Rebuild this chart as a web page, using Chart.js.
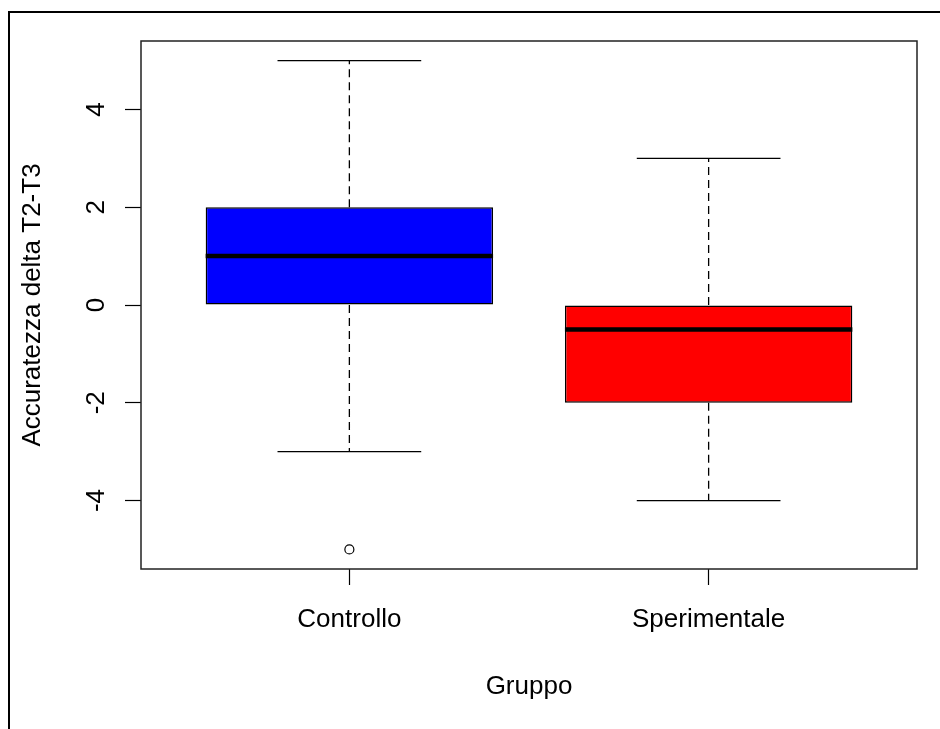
<!DOCTYPE html>
<html>
<head>
<meta charset="utf-8">
<script src="https://cdn.jsdelivr.net/npm/chart.js@4/dist/chart.umd.min.js"></script>
<style>
  html, body { margin: 0; padding: 0; background: #fff; }
  #wrap { position: relative; width: 940px; height: 729px; overflow: hidden; }
  #frame { position: absolute; left: 8px; top: 11px; width: 1000px; height: 800px;
           border-top: 2px solid #000; border-left: 2px solid #000; box-sizing: border-box; }
  canvas { position: absolute; left: 0; top: 0; }
</style>
</head>
<body>
<div id="wrap">
  <canvas id="c" width="940" height="729"></canvas>
  <div id="frame"></div>
</div>
<script>
// ---- data ----
const categories = ['Controllo', 'Sperimentale'];
const whiskerLow = [-3, -4];
const q1 = [0, -2];
const medians = [1, -0.5];
const q3 = [2, 0];
const whiskerHigh = [5, 3];
const outliers = [[-5], []];
const boxColors = ['#0000FF', '#FF0000'];
const yTicks = [-4, -2, 0, 2, 4];
const yTitle = 'Accuratezza delta T2-T3';
const xTitle = 'Gruppo';

// ---- build datasets from data ----
const BOX_HALF = 0.4, CAP_HALF = 0.2;
const pos = categories.map((_, i) => i + 1);

const boxData = pos.map((x, i) => ({ x: x, y: [q1[i], q3[i]] }));
const medianData = [];
const whiskerData = [];
const capData = [];
const outlierData = [];
pos.forEach((x, i) => {
  medianData.push({ x: x - BOX_HALF, y: medians[i] }, { x: x + BOX_HALF, y: medians[i] }, { x: x, y: null });
  whiskerData.push({ x: x, y: q3[i] }, { x: x, y: whiskerHigh[i] }, { x: x, y: null });
  whiskerData.push({ x: x, y: q1[i] }, { x: x, y: whiskerLow[i] }, { x: x, y: null });
  capData.push({ x: x - CAP_HALF, y: whiskerHigh[i] }, { x: x + CAP_HALF, y: whiskerHigh[i] }, { x: x, y: null });
  capData.push({ x: x - CAP_HALF, y: whiskerLow[i] }, { x: x + CAP_HALF, y: whiskerLow[i] }, { x: x, y: null });
  outliers[i].forEach(v => outlierData.push({ x: x, y: v }));
});

const FONT = { family: "'Liberation Sans', Arial, sans-serif", size: 26 };

const plotBox = {
  id: 'plotBox',
  afterDatasetsDraw(chart) {
    const a = chart.chartArea, ctx = chart.ctx;
    ctx.save();
    ctx.strokeStyle = '#222';
    ctx.lineWidth = 1.5;
    ctx.strokeRect(a.left, a.top, a.right - a.left, a.bottom - a.top);
    ctx.restore();
  }
};

new Chart(document.getElementById('c'), {
  type: 'bar',
  data: {
    datasets: [
      { type: 'bar', data: boxData, backgroundColor: boxColors, borderColor: '#000', borderWidth: 1.5,
        borderSkipped: false, categoryPercentage: 0.8, barPercentage: 1, order: 5 },
      { type: 'line', data: whiskerData, borderColor: '#000', borderWidth: 1.3, borderDash: [8, 5],
        pointRadius: 0, spanGaps: false, order: 4 },
      { type: 'line', data: capData, borderColor: '#000', borderWidth: 1.3,
        pointRadius: 0, spanGaps: false, order: 3 },
      { type: 'line', data: medianData, borderColor: '#000', borderWidth: 4.5,
        pointRadius: 0, spanGaps: false, order: 1, borderCapStyle: 'butt' },
      { type: 'scatter', data: outlierData, pointRadius: 4.5, pointBorderColor: '#000',
        pointBackgroundColor: 'rgba(0,0,0,0)', pointBorderWidth: 1.2, order: 0 }
    ]
  },
  options: {
    responsive: false,
    animation: false,
    events: [],
    layout: { padding: { top: 41, right: 23, left: 0, bottom: 0 } },
    plugins: { legend: { display: false }, tooltip: { enabled: false } },
    scales: {
      x: {
        type: 'linear', min: 0.42, max: 2.58, offset: false,
        afterBuildTicks(s) { s.ticks = pos.map(v => ({ value: v })); },
        afterFit(s) { s.height = 160; },
        ticks: { color: '#000', font: FONT, padding: 19, autoSkip: false, maxRotation: 0,
                 callback: (v) => categories[Math.round(v) - 1] },
        grid: { display: true, offset: false, drawOnChartArea: false, drawTicks: true, tickLength: 16,
                tickColor: '#000', tickWidth: 1.2 },
        border: { display: false },
        title: { display: true, text: xTitle, color: '#000', font: FONT, padding: { top: 0, bottom: 27 } }
      },
      y: {
        type: 'linear', min: -5.4, max: 5.4,
        afterBuildTicks(s) { s.ticks = yTicks.map(v => ({ value: v })); },
        afterFit(s) { s.width = 141; },
        ticks: { color: '#000', font: FONT, padding: 17, minRotation: 90, maxRotation: 90,
                 crossAlign: 'center', autoSkip: false },
        grid: { display: true, offset: false, drawOnChartArea: false, drawTicks: true, tickLength: 16,
                tickColor: '#000', tickWidth: 1.2 },
        border: { display: false },
        title: { display: true, text: yTitle, color: '#000', font: FONT, padding: { top: 17, bottom: 0 } }
      }
    }
  },
  plugins: [plotBox]
});
</script>
</body>
</html>
